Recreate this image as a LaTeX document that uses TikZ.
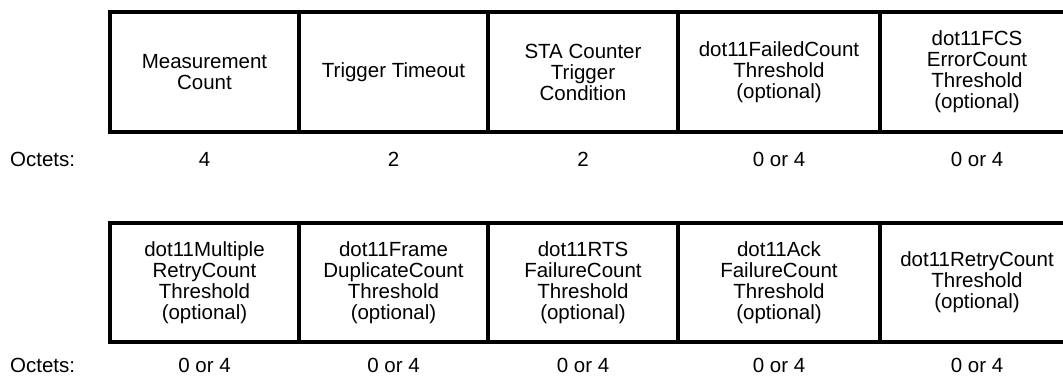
\documentclass[tikz,border=0pt]{standalone}
\usepackage{fontspec}
\setmainfont{Liberation Sans}
\begin{document}
\begin{tikzpicture}[x=1pt,y=-1pt,
  field/.style={draw=black, line width=4pt, inner sep=0pt, outer sep=0pt,
    align=center, font=\fontsize{20.5}{21}\selectfont, minimum height=120pt},
  octet/.style={inner sep=0pt, font=\fontsize{20.5}{21}\selectfont},
  octlabel/.style={inner sep=0pt, anchor=west, font=\fontsize{20.5}{21}\selectfont}]
\useasboundingbox (0,0) rectangle (1063,377);
\clip (0,0) rectangle (1063,377);
% top row
\node[field, minimum width=189pt] (f1) at (204.5,72) {Measurement\\Count};
\node[field, minimum width=189pt] (f2) at (393.5,72) {Trigger Timeout};
\node[field, minimum width=190pt] (f3) at (583,72) {STA Counter\\Trigger\\Condition};
\node[field, minimum width=202pt] (f4) at (779,72) {dot11FailedCount\\Threshold\\(optional)};
\node[field, minimum width=194pt] (f5) at (977,72) {dot11FCS\\ErrorCount\\Threshold\\(optional)};
\node[octlabel] (o0) at (10,159) {Octets:};
\node[octet] (o1) at (204.5,159) {4};
\node[octet] (o2) at (393.5,159) {2};
\node[octet] (o3) at (583,159) {2};
\node[octet] (o4) at (779,159) {0 or 4};
\node[octet] (o5) at (977,159) {0 or 4};
% bottom row
\node[field, minimum width=189pt, minimum height=119pt] (g1) at (204.5,282.5) {dot11Multiple\\RetryCount\\Threshold\\(optional)};
\node[field, minimum width=189pt, minimum height=119pt] (g2) at (393.5,282.5) {dot11Frame\\DuplicateCount\\Threshold\\(optional)};
\node[field, minimum width=190pt, minimum height=119pt] (g3) at (583,282.5) {dot11RTS\\FailureCount\\Threshold\\(optional)};
\node[field, minimum width=202pt, minimum height=119pt] (g4) at (779,282.5) {dot11Ack\\FailureCount\\Threshold\\(optional)};
\node[field, minimum width=194pt, minimum height=119pt] (g5) at (977,282.5) {dot11RetryCount\\Threshold\\(optional)};
\node[octlabel] (p0) at (10,365) {Octets:};
\node[octet] (p1) at (204.5,365) {0 or 4};
\node[octet] (p2) at (393.5,365) {0 or 4};
\node[octet] (p3) at (583,365) {0 or 4};
\node[octet] (p4) at (779,365) {0 or 4};
\node[octet] (p5) at (977,365) {0 or 4};
\end{tikzpicture}
\end{document}
